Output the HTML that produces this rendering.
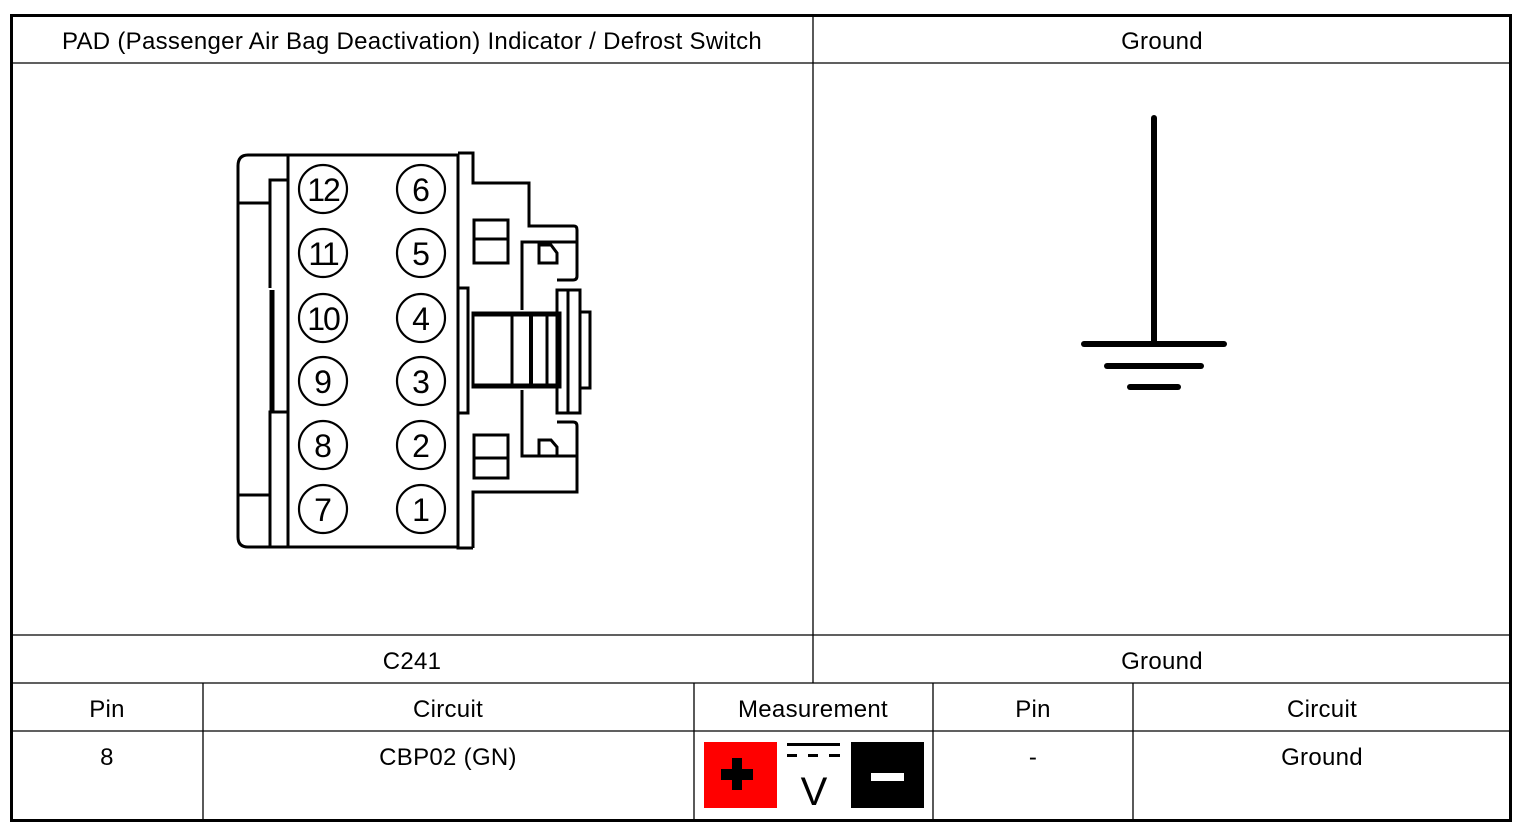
<!DOCTYPE html>
<html><head><style>
html,body{margin:0;padding:0;background:#fff;}
svg{display:block;}
text{font-family:"Liberation Sans",Arial,sans-serif;font-size:24px;letter-spacing:0.3px;fill:#000;}
</style></head><body>
<svg width="1526" height="830" viewBox="0 0 1526 830" xmlns="http://www.w3.org/2000/svg">
<rect x="0" y="0" width="1526" height="830" fill="#fff"/>
<g stroke="#000" stroke-width="1.3" fill="none">
<line x1="11" y1="63" x2="1511" y2="63"/>
<line x1="11" y1="635" x2="1511" y2="635"/>
<line x1="11" y1="683" x2="1511" y2="683"/>
<line x1="11" y1="731" x2="1511" y2="731"/>
<line x1="813" y1="15" x2="813" y2="683"/>
<line x1="203" y1="683" x2="203" y2="821"/>
<line x1="694" y1="683" x2="694" y2="821"/>
<line x1="933" y1="683" x2="933" y2="821"/>
<line x1="1133" y1="683" x2="1133" y2="821"/>
</g>
<rect x="11.5" y="15.5" width="1499" height="805" fill="none" stroke="#000" stroke-width="3"/>
<text x="412" y="49" text-anchor="middle">PAD (Passenger Air Bag Deactivation) Indicator / Defrost Switch</text>
<text x="1162" y="49" text-anchor="middle">Ground</text>
<text x="412" y="669" text-anchor="middle">C241</text>
<text x="1162" y="669" text-anchor="middle">Ground</text>
<text x="107" y="717" text-anchor="middle">Pin</text>
<text x="448" y="717" text-anchor="middle">Circuit</text>
<text x="813" y="717" text-anchor="middle">Measurement</text>
<text x="1033" y="717" text-anchor="middle">Pin</text>
<text x="1322" y="717" text-anchor="middle">Circuit</text>
<text x="107" y="765" text-anchor="middle">8</text>
<text x="448" y="765" text-anchor="middle">CBP02 (GN)</text>
<text x="1033" y="765" text-anchor="middle">-</text>
<text x="1322" y="765" text-anchor="middle">Ground</text>
<rect x="704" y="742" width="73" height="66" fill="#f00"/>
<rect x="732" y="758" width="10" height="32" fill="#000"/>
<rect x="721" y="769" width="32" height="11" fill="#000"/>
<rect x="787" y="743" width="53" height="3" fill="#000"/>
<rect x="787" y="754" width="10" height="3" fill="#000"/>
<rect x="808" y="754" width="10" height="3" fill="#000"/>
<rect x="829" y="754" width="11" height="3" fill="#000"/>
<text x="814" y="805" text-anchor="middle" style="font-size:40px;letter-spacing:0">V</text>
<rect x="851" y="742" width="73" height="66" fill="#000"/>
<rect x="871" y="773" width="33" height="8" fill="#fff"/>
<g stroke="#000" stroke-width="6" stroke-linecap="round">
<line x1="1154" y1="118" x2="1154" y2="343"/>
<line x1="1084" y1="344" x2="1224" y2="344"/>
<line x1="1107" y1="366" x2="1201" y2="366"/>
<line x1="1130" y1="387" x2="1178" y2="387"/>
</g>
<g stroke="#000" stroke-width="3" fill="none" stroke-linejoin="miter">
<path d="M288,155 L248,155 Q238,155 238,166 L238,537 Q238,547 248,547 L288,547"/>
<line x1="238" y1="203" x2="270" y2="203"/>
<line x1="238" y1="495" x2="270" y2="495"/>
<path d="M288,180 L270,180 L270,288"/>
<path d="M288,412 L270,412 L270,547"/>
<line x1="272" y1="290" x2="272" y2="412" stroke-width="5"/>
<rect x="288" y="155" width="170" height="392"/>
<path d="M458,153 L473,153 L473,183 L529,183 L529,226 L574,226 Q577,226 577,230 L577,276 Q577,280 573,280 L557,280"/>
<path d="M473,548 L458,548 L458,413 L468,413 L468,288 L458,288"/>
<path d="M473,548 L473,492 L577,492 L577,426 Q577,422 573,422 L557,422"/>
<path d="M522,310 L522,242 L577,242"/>
<path d="M522,390 L522,456 L577,456"/>
<path d="M539,245 L539,263 L557,263 L557,253 L551,245 Z"/>
<path d="M539,457 L539,440 L551,440 L557,447 L557,457"/>
<rect x="474" y="220" width="34" height="43"/>
<line x1="474" y1="239" x2="508" y2="239"/>
<rect x="474" y="435" width="34" height="43"/>
<line x1="474" y1="458" x2="508" y2="458"/>
<rect x="473" y="313" width="87" height="74"/>
<line x1="473" y1="314" x2="560" y2="314" stroke-width="5"/>
<line x1="473" y1="386" x2="560" y2="386" stroke-width="5"/>
<line x1="512" y1="313" x2="512" y2="387"/>
<line x1="531" y1="313" x2="531" y2="387" stroke-width="4"/>
<line x1="547" y1="313" x2="547" y2="387"/>
<rect x="557" y="290" width="23" height="123"/>
<line x1="568" y1="290" x2="568" y2="413"/>
<rect x="580" y="312" width="10" height="76"/>
</g>
<g stroke="#000" stroke-width="2.2" fill="none">
<circle cx="323" cy="189" r="24"/><circle cx="421" cy="189" r="24"/>
<circle cx="323" cy="253" r="24"/><circle cx="421" cy="253" r="24"/>
<circle cx="323" cy="318" r="24"/><circle cx="421" cy="318" r="24"/>
<circle cx="323" cy="381" r="24"/><circle cx="421" cy="381" r="24"/>
<circle cx="323" cy="445" r="24"/><circle cx="421" cy="445" r="24"/>
<circle cx="323" cy="509" r="24"/><circle cx="421" cy="509" r="24"/>
</g>
<text x="323" y="201" text-anchor="middle" style="font-size:32px;letter-spacing:-2px">12</text>
<text x="421" y="201" text-anchor="middle" style="font-size:32px;letter-spacing:0">6</text>
<text x="323" y="265" text-anchor="middle" style="font-size:32px;letter-spacing:-2px">11</text>
<text x="421" y="265" text-anchor="middle" style="font-size:32px;letter-spacing:0">5</text>
<text x="323" y="330" text-anchor="middle" style="font-size:32px;letter-spacing:-2px">10</text>
<text x="421" y="330" text-anchor="middle" style="font-size:32px;letter-spacing:0">4</text>
<text x="323" y="393" text-anchor="middle" style="font-size:32px;letter-spacing:0">9</text>
<text x="421" y="393" text-anchor="middle" style="font-size:32px;letter-spacing:0">3</text>
<text x="323" y="457" text-anchor="middle" style="font-size:32px;letter-spacing:0">8</text>
<text x="421" y="457" text-anchor="middle" style="font-size:32px;letter-spacing:0">2</text>
<text x="323" y="521" text-anchor="middle" style="font-size:32px;letter-spacing:0">7</text>
<text x="421" y="521" text-anchor="middle" style="font-size:32px;letter-spacing:0">1</text>
</svg>
</body></html>
